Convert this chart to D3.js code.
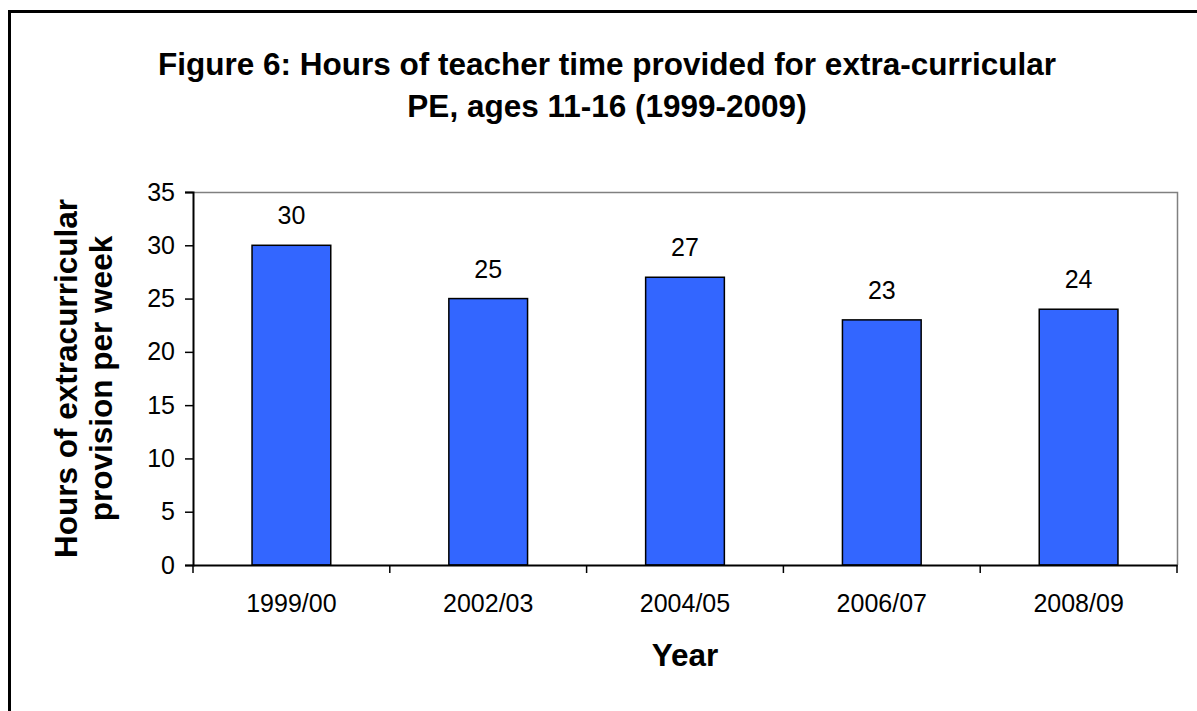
<!DOCTYPE html>
<html>
<head>
<meta charset="utf-8">
<script src="https://cdn.jsdelivr.net/npm/d3@7"></script>
<style>
  body { margin: 0; background: #fff; }
  text { font-family: "Liberation Sans", Arial, sans-serif; }
</style>
</head>
<body>
<div id="chart"></div>
<script>
// chart data
const years = ['1999/00', '2002/03', '2004/05', '2006/07', '2008/09'];
const hours = [30, 25, 27, 23, 24];
const yTicks = [0, 5, 10, 15, 20, 25, 30, 35];
const titleLines = ['Figure 6: Hours of teacher time provided for extra-curricular', 'PE, ages 11-16 (1999-2009)'];
const yLabelLines = ['Hours of extracurricular', 'provision per week'];

const W = 1197, H = 711;
const plot = { left: 193, right: 1177, top: 192, bottom: 565 };
const font = '"Liberation Sans", Arial, sans-serif';

const svg = d3.select('#chart').append('svg')
  .attr('width', W).attr('height', H);

// outer frame (runs off the right and bottom of the picture)
svg.append('rect')
  .attr('x', 9.5).attr('y', 11.5)
  .attr('width', W + 20).attr('height', H + 20)
  .attr('fill', '#fff').attr('stroke', '#000').attr('stroke-width', 3);

const x = d3.scaleBand().domain(years).range([plot.left, plot.right]);
const y = d3.scaleLinear().domain([0, 35]).range([plot.bottom, plot.top]);

// gray top / right edges of plot area
svg.append('path')
  .attr('d', `M${plot.left},${plot.top + 0.5}H${plot.right + 0.5}V${plot.bottom}`)
  .attr('fill', 'none').attr('stroke', '#808080').attr('stroke-width', 1.5);

// bars
const barW = x.bandwidth() * 0.4;
svg.append('g').selectAll('rect')
  .data(hours)
  .join('rect')
  .attr('x', (d, i) => x(years[i]) + (x.bandwidth() - barW) / 2)
  .attr('y', d => y(d))
  .attr('width', barW)
  .attr('height', d => y(0) - y(d))
  .attr('fill', '#3366FF')
  .attr('stroke', '#000').attr('stroke-width', 1.5);

// value labels
svg.append('g').selectAll('text')
  .data(hours)
  .join('text')
  .attr('x', (d, i) => x(years[i]) + x.bandwidth() / 2)
  .attr('y', d => y(d) - 21)
  .attr('text-anchor', 'middle')
  .attr('font-size', 25)
  .text(d => d);

// y axis
const yAxis = svg.append('g')
  .attr('transform', `translate(${plot.left},0)`)
  .call(d3.axisLeft(y).tickValues(yTicks).tickSize(8).tickPadding(10));
yAxis.selectAll('text').attr('font-size', 25).attr('font-family', font).attr('fill', '#000');

// x axis: ticks on the category boundaries
const xAxis = svg.append('g')
  .attr('transform', `translate(0,${plot.bottom})`)
  .call(d3.axisBottom(x).tickSize(0).tickPadding(29));
xAxis.selectAll('text').attr('font-size', 25).attr('font-family', font).attr('fill', '#000');
xAxis.selectAll('.bound')
  .data(d3.range(years.length + 1))
  .join('line')
  .attr('class', 'bound')
  .attr('x1', i => plot.left + i * x.step()).attr('x2', i => plot.left + i * x.step())
  .attr('y1', 0).attr('y2', 8)
  .attr('stroke', '#000');

svg.selectAll('.domain').attr('stroke', '#000').attr('stroke-width', 2);
svg.selectAll('.tick line').attr('stroke', '#000').attr('stroke-width', 1.5);
xAxis.selectAll('.bound').attr('stroke-width', 1.5);

// title
svg.append('text')
  .attr('text-anchor', 'middle')
  .attr('font-size', 31.5).attr('font-weight', 'bold')
  .selectAll('tspan')
  .data(titleLines)
  .join('tspan')
  .attr('x', 607)
  .attr('y', (d, i) => 75 + i * 42)
  .text(d => d);

// y axis title
svg.append('text')
  .attr('transform', `translate(0,${(plot.top + plot.bottom) / 2}) rotate(-90)`)
  .attr('text-anchor', 'middle')
  .attr('font-size', 31.5).attr('font-weight', 'bold')
  .selectAll('tspan')
  .data(yLabelLines)
  .join('tspan')
  .attr('x', 0)
  .attr('y', (d, i) => 77 + i * 35)
  .text(d => d);

// x axis title
svg.append('text')
  .attr('x', (plot.left + plot.right) / 2)
  .attr('y', 666)
  .attr('text-anchor', 'middle')
  .attr('font-size', 31.5).attr('font-weight', 'bold')
  .text('Year');
</script>
</body>
</html>
